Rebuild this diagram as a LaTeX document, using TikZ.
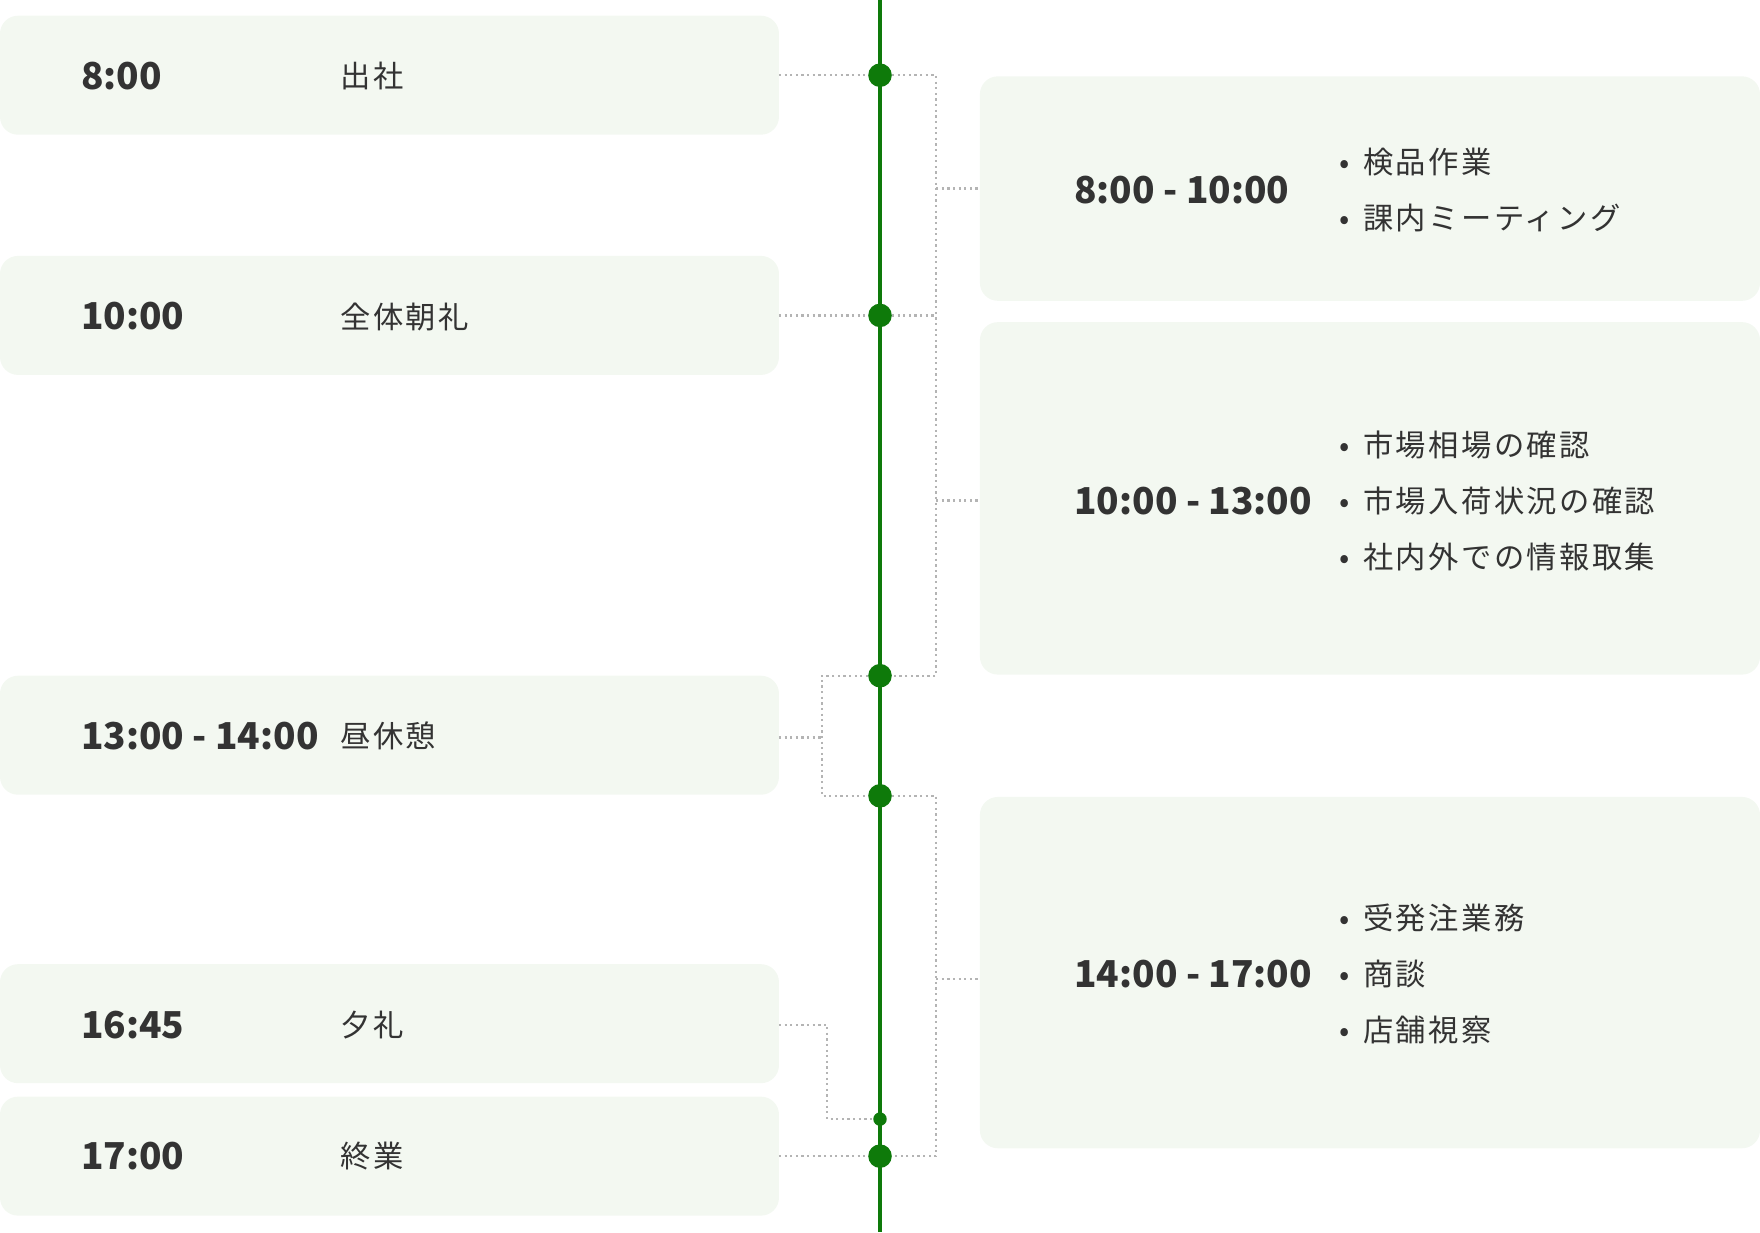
\documentclass[tikz,border=0pt]{standalone}
\usepackage{fontspec}
\setmainfont{Noto Sans CJK JP}
\newfontfamily\jpwide[LetterSpace=8]{Noto Sans CJK JP}
\usetikzlibrary{positioning}
\definecolor{boxfill}{HTML}{F3F8F1}
\definecolor{linegreen}{HTML}{0E7A0A}
\definecolor{textgray}{HTML}{333333}
\definecolor{dotgray}{HTML}{B4B4B4}
\tikzset{
  slot/.style={fill=boxfill, draw=none, rounded corners=16pt},
  timetext/.style={anchor=west, inner sep=0pt, font=\fontsize{33}{40}\selectfont\bfseries, text=textgray},
  tasktext/.style={anchor=west, inner sep=0pt, font=\fontsize{27}{32}\selectfont\jpwide, text=textgray},
  itemtext/.style={anchor=west, inner sep=0pt, align=left, font=\fontsize{27}{50}\selectfont\jpwide, text=textgray},
  dot/.style={circle, fill=linegreen, inner sep=0pt, minimum size=21pt},
  smalldot/.style={circle, fill=linegreen, inner sep=0pt, minimum size=12pt},
  link/.style={dotgray, line width=2pt, dash pattern=on 2pt off 3pt}
}
\newcommand{\itm}{\textbullet\hspace{12pt}}
\begin{document}
\begin{tikzpicture}[x=1pt, y=-1pt]
	\useasboundingbox (0,0) rectangle (1568,1098);

	% linke Kaesten
	\fill[slot] (0,14) rectangle (694,120);
	\fill[slot] (0,228) rectangle (694,334);
	\fill[slot] (0,602) rectangle (694,708);
	\fill[slot] (0,859) rectangle (694,965);
	\fill[slot] (0,977) rectangle (694,1083);

	% rechte Kaesten
	\fill[slot] (873,68) rectangle (1568,268);
	\fill[slot] (873,287) rectangle (1568,601);
	\fill[slot] (873,710) rectangle (1568,1023);

	\node[timetext](t1) at (72,68) {8:00};
	\node[tasktext](s1) at (303,68) {出社};
	\node[timetext](t2) at (72,282) {10:00};
	\node[tasktext](s2) at (303,282) {全体朝礼};
	\node[timetext](t3) at (72,656) {13:00 - 14:00};
	\node[tasktext](s3) at (303,656) {昼休憩};
	\node[timetext](t4) at (72,913) {16:45};
	\node[tasktext](s4) at (303,913) {夕礼};
	\node[timetext](t5) at (72,1030) {17:00};
	\node[tasktext](s5) at (303,1030) {終業};

	\node[timetext](r1) at (957,169) {8:00 - 10:00};
	\node[itemtext](i1) at (1193,169) {\itm 検品作業\\ \itm 課内ミーティング};
	\node[timetext](r2) at (957,446) {10:00 - 13:00};
	\node[itemtext](i2) at (1193,446) {\itm 市場相場の確認\\ \itm 市場入荷状況の確認\\ \itm 社内外での情報取集};
	\node[timetext](r3) at (957,868) {14:00 - 17:00};
	\node[itemtext](i3) at (1193,868) {\itm 受発注業務\\ \itm 商談\\ \itm 店舗視察};

	% Zeitachse
	\coordinate (top) at (784,0);
	\coordinate (bottom) at (784,1098);
	\draw[linegreen, line width=3pt] (top) -- (bottom);

	\coordinate (l1) at (694,67);
	\coordinate (l2) at (694,281);
	\coordinate (l3) at (694,657);
	\coordinate (l4) at (694,913);
	\coordinate (l5) at (694,1030);
	\coordinate (b1) at (873,168);
	\coordinate (b2) at (873,446);
	\coordinate (b3) at (873,872);

	\node[dot](d1) at (784,67) {};
	\node[dot](d2) at (784,281) {};
	\node[dot](d3) at (784,602) {};
	\node[dot](d4) at (784,709) {};
	\node[dot](d5) at (784,1030) {};
	\node[smalldot](d6) at (784,997) {};

	% links
	\draw[link] (l1) -- (d1);
	\draw[link] (l2) -- (d2);
	\draw[link] (l3) -- (732,657);
	\draw[link] (d3) -- (732,602) -- (732,709) -- (d4);
	\draw[link] (l4) -- (737,913) -- (737,997) -- (d6);
	\draw[link] (l5) -- (d5);

	% rechts
	\draw[link] (d1) -- (834,67) -- (834,602) -- (d3);
	\draw[link] (d2) -- (834,281);
	\draw[link] (834,168) -- (b1);
	\draw[link] (834,446) -- (b2);
	\draw[link] (d4) -- (834,709) -- (834,1030) -- (d5);
	\draw[link] (834,872) -- (b3);
\end{tikzpicture}
\end{document}
